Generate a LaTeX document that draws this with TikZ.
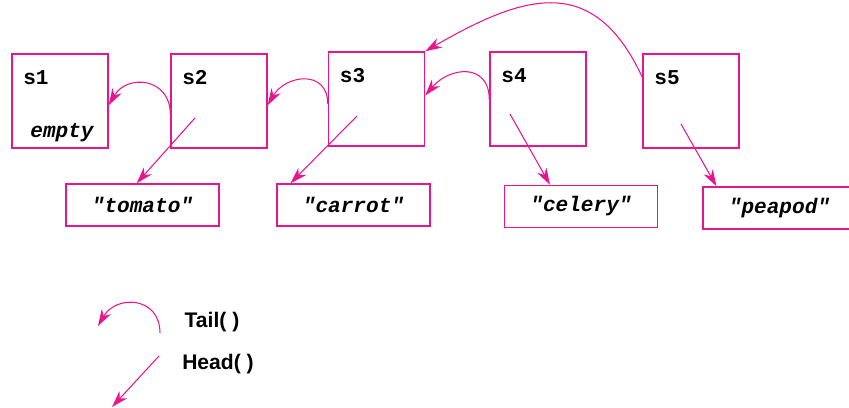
\documentclass[tikz,border=0pt]{standalone}
\usepackage{fontspec}
\setmainfont{Liberation Sans}
\setmonofont{Liberation Mono}
\usetikzlibrary{arrows.meta}
\definecolor{linkpink}{RGB}{232,22,140}

\begin{document}
\begin{tikzpicture}[x=0.02cm, y=-0.02cm,
		cell/.style={draw=linkpink, line width=0.8pt, minimum width=1.92cm, minimum height=1.88cm, inner sep=0pt},
		strbox/.style={draw=linkpink, line width=0.8pt, minimum width=3.06cm, minimum height=0.84cm, inner sep=0pt,
			font=\ttfamily\bfseries\itshape\fontsize{12}{14}\selectfont},
		celltext/.style={font=\ttfamily\bfseries\fontsize{12}{14}\selectfont, inner sep=0pt},
		link/.style={draw=linkpink, line width=0.6pt, -{Stealth[length=9.5pt,width=6pt,inset=3pt]}},
		legend/.style={font=\bfseries\fontsize{12}{14}\selectfont, inner sep=0pt}]
	\useasboundingbox (0,0) rectangle (849,408);
	
	\newcommand\drawCell[4]{\node[cell] (#4) at (#1,#2) {}; \node[celltext] at (#1 - 24,#2 - 23) {#3};}
	\newcommand\drawString[4]{\node[strbox] (#4) at (#1,#2) {"#3"};}
	
	% the list cells
	\drawCell{60}{101}{s1}{s1}
	\drawCell{219}{101}{s2}{s2}
	\drawCell{376.5}{99}{s3}{s3}
	\drawCell{538}{99}{s4}{s4}
	\drawCell{691}{101}{s5}{s5}
	\node[celltext, font=\ttfamily\bfseries\itshape\fontsize{12}{14}\selectfont] (empty) at (62,133) {empty};
	
	% the values
	\drawString{142.5}{205}{tomato}{tomato}
	\drawString{353.5}{205}{carrot}{carrot}
	\drawString{581}{206.5}{celery}{celery}
	\drawString{779.5}{208}{peapod}{peapod}
	
	% head pointers
	\coordinate (h2) at (195,118);
	\coordinate (h3) at (357,116);
	\coordinate (h4) at (510,114);
	\coordinate (h5) at (681,124);
	\draw[link] (h2) -- (tomato.105);
	\draw[link] (h3) -- (carrot.161);
	\draw[link] (h4) -- (celery.145);
	\draw[link] (h5) -- (peapod.161);
	
	% tail pointers
	\draw[link] (s2.195) to[out=90, in=60, looseness=1.5] (s1.-5);
	\draw[link] (s3.186) to[out=90, in=60, looseness=1.5] (s2.-5);
	\draw[link] (s4.181) to[out=90, in=50, looseness=1.5] (s3.4);
	\draw[link] (s5.154) to[out=115, in=30, looseness=1.35] (s3.north east);
	
	% legend
	\coordinate (lt0) at (160,333);
	\coordinate (lt1) at (98,326);
	\coordinate (lh0) at (159,356);
	\coordinate (lh1) at (112,407);
	\draw[link] (lt0) to[out=90, in=60, looseness=1.5] (lt1);
	\draw[link] (lh0) -- (lh1);
	\node[legend] (tail) at (212,322) {Tail( )};
	\node[legend] (head) at (218,364) {Head( )};
\end{tikzpicture}
\end{document}
